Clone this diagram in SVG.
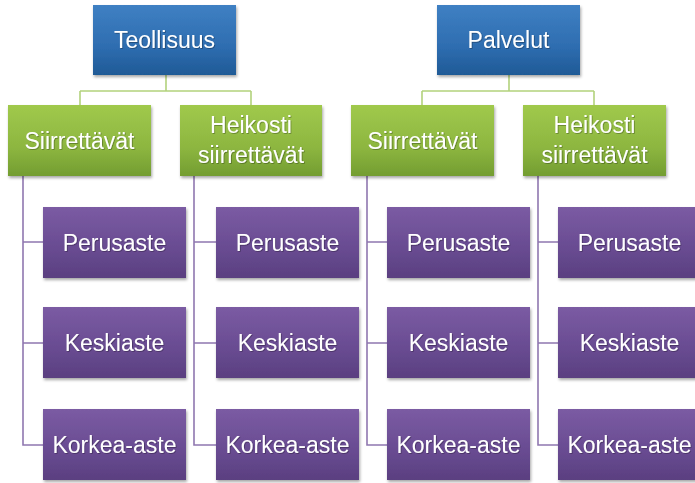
<svg xmlns="http://www.w3.org/2000/svg" width="695" height="483" viewBox="0 0 695 483">
<defs>
<linearGradient id="gb" x1="0" y1="0" x2="0" y2="1"><stop offset="0" stop-color="#3f80c3"/><stop offset="0.6" stop-color="#2e6db0"/><stop offset="1" stop-color="#1f5a96"/></linearGradient>
<linearGradient id="gg" x1="0" y1="0" x2="0" y2="1"><stop offset="0" stop-color="#a0c94c"/><stop offset="0.6" stop-color="#8db640"/><stop offset="1" stop-color="#739d31"/></linearGradient>
<linearGradient id="gp" x1="0" y1="0" x2="0" y2="1"><stop offset="0" stop-color="#7b5ba3"/><stop offset="0.6" stop-color="#684b91"/><stop offset="1" stop-color="#5a3f80"/></linearGradient>
<filter id="sh" x="-10%" y="-10%" width="125%" height="130%"><feDropShadow dx="1" dy="2" stdDeviation="1.5" flood-color="#000" flood-opacity="0.35"/></filter>
<filter id="ts" x="-10%" y="-20%" width="120%" height="150%"><feDropShadow dx="0.8" dy="0.8" stdDeviation="0.6" flood-color="#000" flood-opacity="0.35"/></filter>
</defs>
<style>
.b{fill:url(#gb);filter:url(#sh)}
.g{fill:url(#gg);filter:url(#sh)}
.p{fill:url(#gp);filter:url(#sh)}
text{font-family:"Liberation Sans",Arial,sans-serif;font-size:23px;fill:#fff;text-anchor:middle;filter:url(#ts)}
.cg{fill:none;stroke:#b2d27c;stroke-width:1.6}
.cp{fill:none;stroke:#8f77b0;stroke-width:1.6}
</style>
<g id="connectors">
<path class="cg" d="M166 75V91M80 91H251M80 91V105M251 91V105"/>
<path class="cg" d="M509 75V91M422 91H594M422 91V105M594 91V105"/>
<path class="cp" d="M23 176V445H43M23 242H43M23 343H43"/>
<path class="cp" d="M194 176V445H216M194 242H216M194 343H216"/>
<path class="cp" d="M367 176V445H387M367 242H387M367 343H387"/>
<path class="cp" d="M538 176V445H558M538 242H558M538 343H558"/>
</g>
<g id="teollisuus"><rect class="b" x="93" y="5" width="143" height="70"/><text x="164.5" y="48">Teollisuus</text></g>
<g id="palvelut"><rect class="b" x="437" y="5" width="143" height="70"/><text x="508.5" y="48">Palvelut</text></g>
<g id="t-siirrettavat"><rect class="g" x="8" y="105" width="143" height="71"/><text x="79.5" y="148.5">Siirrettävät</text></g>
<g id="t-heikosti"><rect class="g" x="180" y="105" width="142" height="71"/><text x="251" y="133">Heikosti</text><text x="251" y="163">siirrettävät</text></g>
<g id="p-siirrettavat"><rect class="g" x="351" y="105" width="143" height="71"/><text x="422.5" y="148.5">Siirrettävät</text></g>
<g id="p-heikosti"><rect class="g" x="523" y="105" width="143" height="71"/><text x="594.5" y="133">Heikosti</text><text x="594.5" y="163">siirrettävät</text></g>
<g id="c1-perus"><rect class="p" x="43" y="207" width="143" height="71"/><text x="114.5" y="250.5">Perusaste</text></g>
<g id="c1-keski"><rect class="p" x="43" y="307" width="143" height="71"/><text x="114.5" y="351">Keskiaste</text></g>
<g id="c1-korkea"><rect class="p" x="43" y="409" width="143" height="71"/><text x="114.5" y="452.5">Korkea-aste</text></g>
<g id="c2-perus"><rect class="p" x="216" y="207" width="143" height="71"/><text x="287.5" y="250.5">Perusaste</text></g>
<g id="c2-keski"><rect class="p" x="216" y="307" width="143" height="71"/><text x="287.5" y="351">Keskiaste</text></g>
<g id="c2-korkea"><rect class="p" x="216" y="409" width="143" height="71"/><text x="287.5" y="452.5">Korkea-aste</text></g>
<g id="c3-perus"><rect class="p" x="387" y="207" width="143" height="71"/><text x="458.5" y="250.5">Perusaste</text></g>
<g id="c3-keski"><rect class="p" x="387" y="307" width="143" height="71"/><text x="458.5" y="351">Keskiaste</text></g>
<g id="c3-korkea"><rect class="p" x="387" y="409" width="143" height="71"/><text x="458.5" y="452.5">Korkea-aste</text></g>
<g id="c4-perus"><rect class="p" x="558" y="207" width="143" height="71"/><text x="629.5" y="250.5">Perusaste</text></g>
<g id="c4-keski"><rect class="p" x="558" y="307" width="143" height="71"/><text x="629.5" y="351">Keskiaste</text></g>
<g id="c4-korkea"><rect class="p" x="558" y="409" width="143" height="71"/><text x="629.5" y="452.5">Korkea-aste</text></g>
</svg>
